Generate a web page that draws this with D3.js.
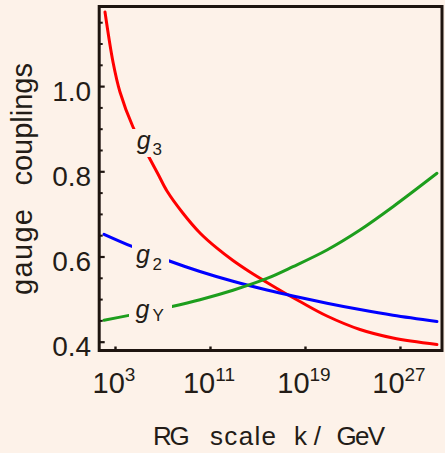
<!DOCTYPE html>
<html>
<head>
<meta charset="utf-8">
<script src="https://cdn.jsdelivr.net/npm/d3@7"></script>
<style>
  html, body { margin: 0; padding: 0; background: #fdf2e9; }
  svg { display: block; }
  text { font-family: "Liberation Sans", Arial, Helvetica, sans-serif; fill: #231c17; }
</style>
</head>
<body>
<svg id="chart" width="445" height="453"></svg>
<script>
// Running gauge couplings vs. RG scale (log10 of k in GeV)
const g3LogK = [2.158, 2.832, 3.421, 4.516, 5.695, 6.621, 7.379, 8.726, 10.158, 11.589, 12.937, 14.368, 15.800, 17.147, 18.579, 20.853, 23.632, 26.411, 30.116];
const g3Vals = [1.1739, 1.0566, 0.9861, 0.9040, 0.8418, 0.7937, 0.7538, 0.7016, 0.6552, 0.6195, 0.5906, 0.5636, 0.5390, 0.5167, 0.4944, 0.4603, 0.4286, 0.4087, 0.3934];

const g2LogK = [2.074, 4.432, 7.463, 10.158, 12.937, 15.800, 17.989, 20.853, 23.632, 26.411, 30.116];
const g2Vals = [0.6521, 0.6235, 0.5906, 0.5648, 0.5418, 0.5213, 0.5073, 0.4904, 0.4754, 0.4620, 0.4474];

const gYLogK = [2.074, 4.179, 7.800, 10.158, 12.937, 15.800, 17.989, 20.853, 23.632, 26.411, 30.116];
const gYVals = [0.4505, 0.4617, 0.4826, 0.4984, 0.5207, 0.5484, 0.5761, 0.6153, 0.6622, 0.7169, 0.7953];

const seriesNames = ["3", "2", "Y"];
const seriesColors = ["#ff0000", "#0000ff", "#1d9e1d"];

const xTickExps = [3, 11, 19, 27];
const yTicks = [0.4, 0.6, 0.8, 1.0];
const yMinorTicks = [0.45, 0.5, 0.55, 0.65, 0.7, 0.75, 0.85, 0.9, 0.95, 1.05, 1.1, 1.15];

const xTitleWords = ["RG", "scale", "k/", "GeV"];
const yTitleWords = ["gauge", "couplings"];

const svg = d3.select("#chart");
const W = 445, H = 453;
const frame = { left: 99.2, right: 442, top: 6.5, bottom: 350.5 };
const ink = "#1e1510";

svg.append("rect").attr("width", W).attr("height", H).attr("fill", "#fdf2e9");

const x = d3.scaleLinear().domain([1.67, 30.54]).range([frame.left, frame.right]);
const y = d3.scaleLinear().domain([0.3793, 1.1869]).range([frame.bottom, frame.top]);

svg.append("clipPath").attr("id", "plotclip")
  .append("rect")
  .attr("x", frame.left).attr("y", frame.top)
  .attr("width", frame.right - frame.left).attr("height", frame.bottom - frame.top);

// curves
const line = d3.line().x(d => x(d[0])).y(d => y(d[1])).curve(d3.curveCatmullRom.alpha(0.5));
const curves = [
  d3.zip(g3LogK, g3Vals),
  d3.zip(g2LogK, g2Vals),
  d3.zip(gYLogK, gYVals)
];
const plot = svg.append("g").attr("clip-path", "url(#plotclip)");
curves.forEach((pts, i) => {
  plot.append("path")
    .attr("d", line(pts))
    .attr("fill", "none")
    .attr("stroke", seriesColors[i])
    .attr("stroke-width", 3)
    .attr("stroke-linecap", "round");
});

// curve labels on knock-out boxes
const labelLayout = [
  { gx: 136.7, gy: 148.5, sx: 152.5, sy: 155, box: [131, 129, 38, 28] },
  { gx: 136, gy: 263, sx: 152.5, sy: 270, box: [132, 243, 37, 30] },
  { gx: 135.5, gy: 318, sx: 152.5, sy: 320.5, box: [129, 300, 43, 28] }
];
seriesNames.forEach((name, i) => {
  const L = labelLayout[i];
  svg.append("rect")
    .attr("x", L.box[0]).attr("y", L.box[1])
    .attr("width", L.box[2]).attr("height", L.box[3])
    .attr("fill", "#fdf2e9");
  svg.append("text")
    .attr("x", L.gx).attr("y", L.gy)
    .attr("font-size", 25).attr("font-style", "italic")
    .text("g");
  svg.append("text")
    .attr("x", L.sx).attr("y", L.sy)
    .attr("font-size", 17)
    .text(name);
});

// frame
svg.append("rect")
  .attr("x", frame.left).attr("y", frame.top)
  .attr("width", frame.right - frame.left).attr("height", frame.bottom - frame.top)
  .attr("fill", "none").attr("stroke", ink).attr("stroke-width", 3);

// y axis
const yAxis = d3.axisLeft(y)
  .tickValues(yTicks)
  .tickSizeInner(-5.5)
  .tickSizeOuter(0)
  .tickPadding(8)
  .tickFormat(d3.format(".1f"));
const yg = svg.append("g").attr("transform", `translate(${frame.left},0)`).call(yAxis);
yg.select(".domain").remove();
yg.selectAll(".tick line").attr("stroke", ink).attr("stroke-width", 2.2);
yg.selectAll(".tick text")
  .attr("font-size", 28)
  .attr("font-family", "Liberation Sans, Arial, sans-serif")
  .attr("fill", "#231c17")
  .attr("dy", "0.5em");

const yMinor = d3.axisLeft(y).tickValues(yMinorTicks).tickSizeInner(-3.5).tickSizeOuter(0).tickFormat("");
const ym = svg.append("g").attr("transform", `translate(${frame.left},0)`).call(yMinor);
ym.select(".domain").remove();
ym.selectAll(".tick line").attr("stroke", ink).attr("stroke-width", 2);

// x axis
const xAxis = d3.axisBottom(x).tickValues(xTickExps).tickSizeInner(-4).tickSizeOuter(0).tickFormat("");
const xg = svg.append("g").attr("transform", `translate(0,${frame.bottom})`).call(xAxis);
xg.select(".domain").remove();
xg.selectAll(".tick line").attr("stroke", ink).attr("stroke-width", 2.4);

const xl = svg.append("g");
xTickExps.forEach(e => {
  const t = xl.append("text")
    .attr("x", x(e) - 1)
    .attr("y", 393)
    .attr("text-anchor", "middle")
    .attr("font-size", 29);
  t.append("tspan").text("10");
  t.append("tspan").attr("font-size", 19).attr("dy", -12).text(String(e));
});

// axis titles (wide word gaps)
const xTitleX = [153, 210, 294, 336.5];
const xTitleLen = [36.7, 66, 27, 48.5];
xTitleWords.forEach((w, i) => {
  svg.append("text")
    .attr("x", xTitleX[i]).attr("y", 445)
    .attr("font-size", 26)
    .attr("textLength", xTitleLen[i])
    .attr("lengthAdjust", "spacing")
    .text(w);
});

const yT = svg.append("g").attr("transform", "translate(31.5,0)");
yT.append("text")
  .attr("transform", "translate(0,295) rotate(-90)")
  .attr("text-anchor", "start")
  .attr("font-size", 29)
  .attr("textLength", 86)
  .attr("lengthAdjust", "spacing")
  .text(yTitleWords[0]);
yT.append("text")
  .attr("transform", "translate(0,63) rotate(-90)")
  .attr("text-anchor", "end")
  .attr("font-size", 29)
  .text(yTitleWords[1]);
</script>
</body>
</html>
